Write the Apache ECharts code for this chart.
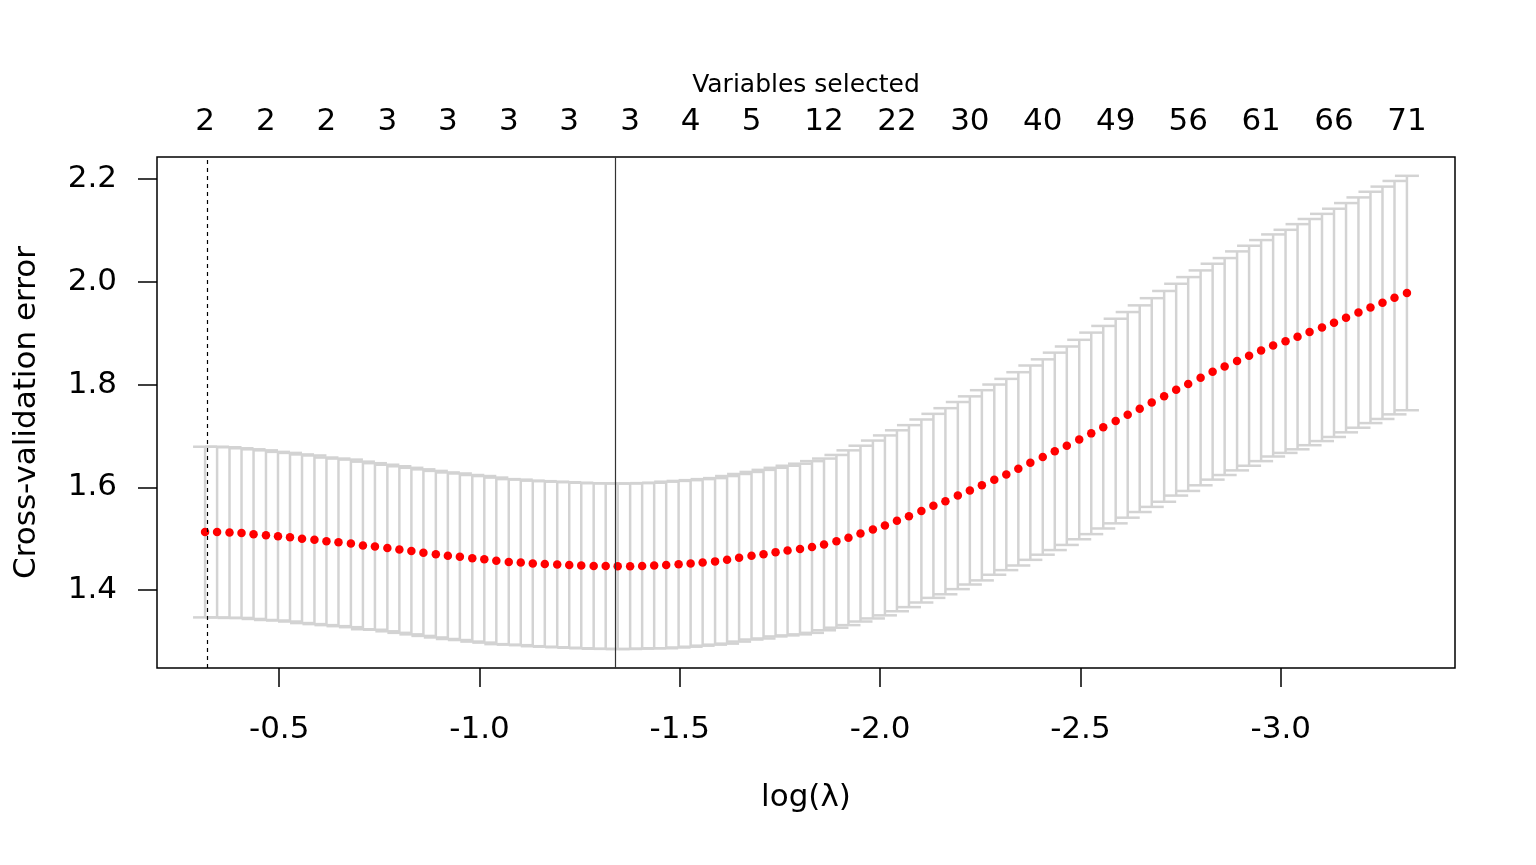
<!DOCTYPE html>
<html>
<head>
<meta charset="utf-8">
<script src="https://cdn.jsdelivr.net/npm/echarts@6/dist/echarts.min.js"></script>
<style>
html,body{margin:0;padding:0;background:#fff;}
#chart{width:1536px;height:865px;}
</style>
</head>
<body>
<div id="chart"></div>
<script>
// log(lambda) values for each fitted lambda
var logLambda = [
-0.315,-0.345,-0.376,-0.406,-0.436,-0.467,-0.497,-0.527,-0.557,-0.588,
-0.618,-0.648,-0.679,-0.709,-0.739,-0.770,-0.800,-0.830,-0.860,-0.891,
-0.921,-0.951,-0.982,-1.012,-1.042,-1.073,-1.103,-1.133,-1.163,-1.194,
-1.224,-1.254,-1.285,-1.315,-1.345,-1.376,-1.406,-1.436,-1.466,-1.497,
-1.527,-1.557,-1.588,-1.618,-1.648,-1.679,-1.709,-1.739,-1.769,-1.800,
-1.830,-1.860,-1.891,-1.921,-1.951,-1.982,-2.012,-2.042,-2.072,-2.103,
-2.133,-2.163,-2.194,-2.224,-2.254,-2.285,-2.315,-2.345,-2.375,-2.406,
-2.436,-2.466,-2.497,-2.527,-2.557,-2.588,-2.618,-2.648,-2.678,-2.709,
-2.739,-2.769,-2.800,-2.830,-2.860,-2.891,-2.921,-2.951,-2.981,-3.012,
-3.042,-3.072,-3.103,-3.133,-3.163,-3.194,-3.224,-3.254,-3.284,-3.315
];
// mean cross-validation error
var cvm = [
1.513,1.513,1.512,1.511,1.509,1.507,1.505,1.503,1.500,1.498,
1.495,1.493,1.491,1.487,1.485,1.482,1.479,1.476,1.473,1.470,
1.467,1.465,1.462,1.460,1.457,1.455,1.454,1.452,1.451,1.450,
1.449,1.448,1.447,1.4468,1.4464,1.4466,1.4472,1.448,1.449,1.4505,
1.452,1.454,1.456,1.459,1.463,1.467,1.470,1.474,1.477,1.480,
1.484,1.489,1.495,1.502,1.510,1.518,1.526,1.535,1.544,1.554,
1.564,1.573,1.584,1.594,1.604,1.615,1.625,1.636,1.648,1.659,
1.670,1.681,1.693,1.705,1.717,1.729,1.741,1.753,1.765,1.777,
1.790,1.801,1.813,1.825,1.835,1.846,1.856,1.866,1.876,1.884,
1.893,1.902,1.911,1.920,1.930,1.940,1.950,1.959,1.969,1.978
];
// standard error of the cross-validation error
var cvsd = [
0.166,0.166,0.166,0.165,0.165,0.165,0.164,0.164,0.164,0.164,
0.163,0.163,0.163,0.163,0.162,0.162,0.162,0.162,0.162,0.162,
0.162,0.162,0.162,0.162,0.162,0.161,0.161,0.161,0.161,0.161,
0.161,0.161,0.161,0.161,0.161,0.161,0.161,0.161,0.162,0.162,
0.162,0.162,0.162,0.163,0.163,0.163,0.164,0.164,0.165,0.166,
0.167,0.167,0.168,0.170,0.171,0.173,0.175,0.176,0.177,0.178,
0.179,0.181,0.182,0.183,0.185,0.185,0.186,0.188,0.189,0.190,
0.192,0.193,0.194,0.196,0.197,0.199,0.200,0.201,0.203,0.205,
0.206,0.208,0.209,0.210,0.211,0.213,0.214,0.215,0.216,0.217,
0.219,0.220,0.221,0.222,0.223,0.224,0.225,0.226,0.227,0.228
];
// top axis: which lambdas are labelled and their number of selected variables
var nzShownIdx = [0,5,10,15,20,25,30,35,40,45,51,57,63,69,75,81,87,93,99];
var nzShown = ['2','2','2','3','3','3','3','3','4','5','12','22','30','40','49','56','61','66','71'];
// tick labels
var xTicks = [-0.5,-1.0,-1.5,-2.0,-2.5,-3.0];
var yTicks = [1.4,1.6,1.8,2.0,2.2];
var idxMin = 34, idx1se = 0;

var FONT = 'DejaVu Sans';
var chart = echarts.init(document.getElementById('chart'));

var barData = logLambda.map(function(x,i){ return [x, cvm[i]-cvsd[i], cvm[i]+cvsd[i]]; });
var pointData = logLambda.map(function(x,i){ return [x, cvm[i]]; });
var topVals = nzShownIdx.map(function(i){ return logLambda[i]; });
var capW = 0.03;

var option = {
  backgroundColor: '#ffffff',
  animation: false,
  grid: {left:157, right:81, top:157, bottom:197, show:true, borderColor:'#000', borderWidth:1.5, backgroundColor:'transparent'},
  xAxis: [{
    type:'value', inverse:true, min:-3.435, max:-0.195,
    axisLine:{show:false}, splitLine:{show:false},
    axisTick:{show:true, inside:false, length:19, customValues:xTicks, lineStyle:{color:'#000', width:1.5}},
    axisLabel:{customValues:xTicks, margin:46, color:'#000', fontFamily:FONT, fontSize:31,
      formatter:function(v){ return v.toFixed(1); }},
    name:'log(\u03BB)', nameLocation:'middle', nameGap:114,
    nameTextStyle:{color:'#000', fontFamily:FONT, fontSize:31}
  },{
    type:'value', inverse:true, min:-3.435, max:-0.195, position:'top',
    axisLine:{show:false}, splitLine:{show:false}, axisTick:{show:false},
    axisLabel:{customValues:topVals, margin:20, color:'#000', fontFamily:FONT, fontSize:31,
      formatter:function(v){
        for (var j=0;j<topVals.length;j++){ if (Math.abs(topVals[j]-v)<1e-6) return nzShown[j]; }
        return '';
      }},
    name:'Variables selected', nameLocation:'middle', nameGap:59,
    nameTextStyle:{color:'#000', fontFamily:FONT, fontSize:25}
  }],
  yAxis: {
    type:'value', min:1.2486, max:2.2426,
    axisLine:{show:false}, splitLine:{show:false},
    axisTick:{show:true, inside:false, length:19, customValues:yTicks, lineStyle:{color:'#000', width:1.5}},
    axisLabel:{customValues:yTicks, margin:40, color:'#000', fontFamily:FONT, fontSize:31,
      formatter:function(v){ return v.toFixed(1); }},
    name:'Cross-validation error', nameLocation:'middle', nameGap:115,
    nameTextStyle:{color:'#000', fontFamily:FONT, fontSize:31}
  },
  series: [{
    type:'custom', xAxisIndex:0, yAxisIndex:0, z:1,
    data: barData,
    encode:{x:0, y:[1,2]},
    renderItem:function(params, api){
      var x = api.value(0), lo = api.value(1), hi = api.value(2);
      var pHi = api.coord([x, hi]), pLo = api.coord([x, lo]);
      var xl = api.coord([x + capW, hi])[0], xr = api.coord([x - capW, hi])[0];
      var st = {stroke:'#d3d3d3', lineWidth:2.5};
      return {type:'group', children:[
        {type:'line', shape:{x1:pHi[0], y1:pHi[1], x2:pLo[0], y2:pLo[1]}, style:st},
        {type:'line', shape:{x1:xl, y1:pHi[1], x2:xr, y2:pHi[1]}, style:st},
        {type:'line', shape:{x1:xl, y1:pLo[1], x2:xr, y2:pLo[1]}, style:st}
      ]};
    }
  },{
    type:'line', xAxisIndex:0, yAxisIndex:0, data:[], z:2,
    markLine:{
      silent:true, symbol:['none','none'], label:{show:false},
      data:[
        {xAxis:logLambda[idxMin], lineStyle:{color:'#333', width:1.2, type:'solid'}},
        {xAxis:logLambda[idx1se], lineStyle:{color:'#000', width:1.2, type:[4,4]}}
      ]
    }
  },{
    type:'scatter', xAxisIndex:0, yAxisIndex:0, z:3,
    data: pointData, symbol:'circle', symbolSize:8.5,
    itemStyle:{color:'#ff0000', opacity:1}
  }]
};
chart.setOption(option);
</script>
</body>
</html>
